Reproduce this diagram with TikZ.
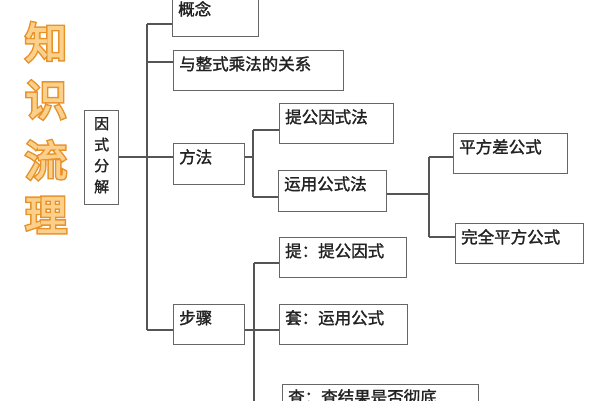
\documentclass[tikz,border=0pt]{standalone}
\usepackage{fontspec}
\newfontfamily\cjk{Noto Sans CJK SC}
\newfontfamily\cjkbold[FakeBold=1.6]{Noto Sans CJK SC}
\newfontfamily\titleouter[FakeBold=9]{Noto Sans CJK SC}
\newfontfamily\titleinner[FakeBold=2]{Noto Sans CJK SC}
\definecolor{linegray}{HTML}{555555}
\definecolor{boxgray}{HTML}{666666}
\definecolor{txt}{HTML}{222222}
\definecolor{orangeout}{HTML}{E8922A}
\definecolor{orangein}{HTML}{FAD08A}
\tikzset{
  box/.style={draw=boxgray, line width=1.4pt, rectangle, inner sep=0pt, anchor=north west},
  lbl/.style={anchor=north west, inner sep=0pt, font=\cjkbold\fontsize{16.5}{16.5}\selectfont, text=txt},
  conn/.style={draw=linegray, line width=1.3pt},
  ttlo/.style={inner sep=0pt, font=\titleouter\fontsize{42}{42}\selectfont, text=orangeout},
  ttli/.style={inner sep=0pt, font=\titleinner\fontsize{42}{42}\selectfont, text=orangein}
}
\newcommand{\mkbox}[7]{%
  \node[box, minimum width=#4pt, minimum height=#5pt] (#1) at (#2,#3) {};
  \node[lbl] (#1t) at ([xshift=6pt,yshift=-#6pt]#1.north west) {#7};
}
\begin{document}
\begin{tikzpicture}[x=1pt,y=-1pt]
\useasboundingbox (0,0) rectangle (600,400);
\fill[white] (0,0) rectangle (600,400);
\begin{scope}
\clip (0,0) rectangle (600,400);
% title
\foreach \c/\yy/\nm in {知/42/ta,识/100/tb,流/160/tc,理/215/td}{
  \node[ttlo] (\nm o) at (46,\yy) {\c};
  \node[ttli] (\nm) at (46,\yy) {\c};
}
% boxes
\node[box, minimum width=34pt, minimum height=94pt] (root) at (84,110) {};
\node[anchor=north, inner sep=0pt, align=center, font=\cjkbold\fontsize{15}{21}\selectfont, text=txt] (roott) at ([yshift=-7pt]root.north) {因\\式\\分\\解};
\mkbox{gn}{172}{-5}{86}{41}{6}{概念}
\mkbox{gx}{173}{50}{170}{40}{6}{与整式乘法的关系}
\mkbox{ff}{173}{143}{71}{41}{6}{方法}
\mkbox{tg}{279}{103}{114}{40}{6}{提公因式法}
\mkbox{yy}{278}{170}{108}{41}{6}{运用公式法}
\mkbox{pf}{453}{133}{114}{40}{6}{平方差公式}
\mkbox{wq}{455}{223}{128}{40}{6}{完全平方公式}
\mkbox{bz}{173}{304}{71}{40}{6}{步骤}
\mkbox{st}{279}{237}{127}{40}{6}{提：提公因式}
\mkbox{sy}{279}{304}{128}{40}{6}{套：运用公式}
\mkbox{sc}{282}{384}{196}{40}{5}{查：查结果是否彻底}
% connector junctions
\coordinate (m1) at (147,24);
\coordinate (m2) at (147,330);
\coordinate (f1) at (253,130);
\coordinate (f2) at (253,197);
\coordinate (y1) at (429,157);
\coordinate (y2) at (429,237);
\coordinate (s1) at (254,263);
\coordinate (s2) at (254,402);
% connectors
\draw[conn] (m1) -- (m2);
\draw[conn] (root.east |- 0,157) -- (ff.west |- 0,157);
\draw[conn] (m1) -- (gn.west |- m1);
\draw[conn] (147,62) -- (gx.west |- 0,62);
\draw[conn] (m2) -- (bz.west |- m2);
\draw[conn] (ff.east |- 0,157) -- (253,157);
\draw[conn] (f1) -- (f2);
\draw[conn] (f1) -- (tg.west |- f1);
\draw[conn] (f2) -- (yy.west |- f2);
\draw[conn] (yy.east |- 0,194) -- (429,194);
\draw[conn] (y1) -- (y2);
\draw[conn] (y1) -- (pf.west |- y1);
\draw[conn] (y2) -- (wq.west |- y2);
\draw[conn] (bz.east |- 0,330) -- (sy.west |- 0,330);
\draw[conn] (s1) -- (s2);
\draw[conn] (s1) -- (st.west |- s1);
\end{scope}
\end{tikzpicture}
\end{document}
